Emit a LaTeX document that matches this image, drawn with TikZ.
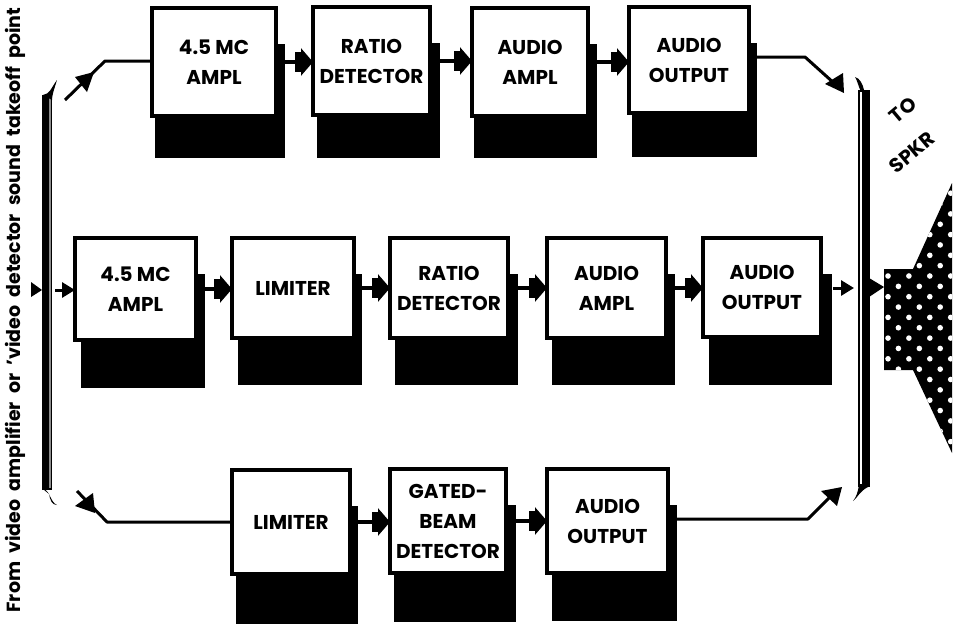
\documentclass[tikz,border=0pt]{standalone}
\usepackage{fontspec}
\setmainfont{Poppins}
\usetikzlibrary{arrows.meta}
\tikzset{
  blockbox/.style={draw=black,fill=white,line width=4pt,inner sep=0pt,outer sep=0pt,align=center,font=\fontsize{20}{30}\selectfont\bfseries},
  wire/.style={line width=3pt,draw=black},
  flow/.style={line width=3.5pt,draw=black,-{Rectangle[length=6pt,width=20pt,sep=0pt]Triangle[length=12pt,width=27pt]}},
  smallflow/.style={line width=3pt,draw=black,-{Triangle[length=13pt,width=15pt]}},
  headfill/.style={fill=black,draw=none},
  lettering/.style={font=\fontsize{19}{24}\selectfont\bfseries,inner sep=0pt},
  tospk/.style={font=\fontsize{20}{24}\selectfont\bfseries,inner sep=0pt,rotate=40}
}
% name, x1,y1,x2,y2, shadow x1,x2,y2, text
\newcommand{\blockat}[9]{%
  \fill[black] (#6,#3+38) rectangle (#7,#8);
  \pgfmathsetmacro{\bw}{#4-#2-4}\pgfmathsetmacro{\bh}{#5-#3-4}
  \node[blockbox,minimum width=\bw pt,minimum height=\bh pt] (#1) at ({(#2+#4)/2},{(#3+#5)/2}) {#9};
}
\begin{document}
\begin{tikzpicture}[x=1pt,y=-1pt]
\useasboundingbox (0,0) rectangle (957,624);
% first row
\blockat{aa}{150}{6}{278}{118}{155}{285}{158}{4.5 MC\\AMPL}
\blockat{ab}{311}{5}{432}{117}{317}{440}{158}{RATIO\\DETECTOR}
\blockat{ac}{470}{6}{590}{118}{474}{597}{158}{AUDIO\\AMPL}
\blockat{ad}{627}{5}{751}{115}{632}{757}{157}{AUDIO\\OUTPUT}
% second row
\blockat{ba}{73}{236}{198}{342}{81}{205}{388}{4.5 MC\\AMPL}
\blockat{bb}{230}{236}{356}{340}{238}{362}{385}{LIMITER}
\blockat{bc}{388}{236}{510}{340}{395}{518}{385}{RATIO\\DETECTOR}
\blockat{bd}{545}{236}{668}{340}{552}{675}{385}{AUDIO\\AMPL}
\blockat{be}{701}{236}{823}{339}{709}{832}{385}{AUDIO\\OUTPUT}
% third row
\blockat{ca}{230}{468}{352}{576}{236}{358}{624}{LIMITER}
\blockat{cb}{388}{467}{508}{575}{394}{516}{622}{GATED-\\BEAM\\DETECTOR}
\blockat{cc}{545}{467}{670}{575}{552}{677}{621}{AUDIO\\OUTPUT}
% flows
\draw[flow] (aa.east) -- (aa.east -| ab.west);
\draw[flow] (ab.east) -- (ab.east -| ac.west);
\draw[flow] (ac.east) -- (ac.east -| ad.west);
\draw[flow] (ba.east) -- (ba.east -| bb.west);
\draw[flow] (bb.east) -- (bb.east -| bc.west);
\draw[flow] (bc.east) -- (bc.east -| bd.west);
\draw[flow] (bd.east) -- (bd.east -| be.west);
\draw[flow] (ca.east) -- (ca.east -| cb.west);
\draw[flow] (cb.east) -- (cb.east -| cc.west);
% buses
\fill[black] (42,95) rectangle (52,490);
\fill[black!45] (49,97) rectangle (50.5,488);
\fill[black] (43,95) .. controls (50,94) and (51,88) .. (57,80) .. controls (54,90) and (52,95) .. (52,100) -- cycle;
\fill[black] (43,489) .. controls (50,490) and (50,502) .. (57,505) .. controls (52,505) and (50,500) .. (49,494) -- cycle;
\fill[black] (858,90) rectangle (869.5,487);
\fill[white] (859.8,92) rectangle (861.5,484);
\fill[black] (861,92) .. controls (858,85) and (857,80) .. (855,77) .. controls (860,78) and (863,85) .. (864,90) -- cycle;
\fill[black] (859,484) .. controls (858,493) and (856,497) .. (853,501) .. controls (858,497) and (860,491) .. (868,487) -- cycle;
% wires
\coordinate (ta) at (105,61);
\coordinate (tb) at (65,100);
\draw[wire,line join=round] (aa.west |- ta) -- (ta) -- (tb);
\fill[headfill] (94,72) -- (75,77) -- (87,92) -- cycle;
\coordinate (ua) at (107,522);
\coordinate (ub) at (77,491);
\draw[wire,line join=round] (ca.west |- ua) -- (ua) -- (ub);
\fill[headfill] (93,493) -- (75,506) -- (95,513) -- cycle;
\coordinate (va) at (805,57);
\coordinate (vb) at (835,84);
\draw[wire,line join=round] (ad.east |- va) -- (va) -- (vb);
\fill[headfill] (843,73) -- (825,84) -- (844,93) -- cycle;
\coordinate (wa) at (808,519);
\coordinate (wb) at (830,497);
\draw[wire,line join=round] (cc.east |- wa) -- (wa) -- (wb);
\fill[headfill] (842,487) -- (821,491) -- (837,506) -- cycle;
% input and output
\coordinate (inp) at (55,290);
\draw[smallflow] (inp) -- (inp -| ba.west);
\fill[headfill] (31,282) -- (42,290) -- (31,297) -- cycle;
\coordinate (oup) at (833,288);
\coordinate (oue) at (854,288);
\draw[smallflow] (oup) -- (oue);
\fill[headfill] (869,278) -- (884,287) -- (869,297) -- cycle;
% speaker
\begin{scope}
\clip (884,269) -- (913,269) -- (952,183) -- (952,453) -- (913,370) -- (884,370) -- cycle;
\fill[black] (880,180) rectangle (957,460);
\foreach \r in {-9,...,17}{
  \pgfmathsetmacro{\rowy}{276+\r*10.35}
  \pgfmathsetmacro{\off}{mod(\r+20,2)*10.4}
  \foreach \c in {0,...,3}{
    \fill[white] ({888+\off+\c*20.9},\rowy) circle (2.8);
  }
}
\end{scope}
% lettering
\node[lettering,rotate=90] (src) at (15,310) {From\ \ video\ \ amplifier\ \ or\ \ 'video\ \ detector\ \ sound\ \ takeoff\ \ point};
\node[tospk] (to) at (903,110) {TO};
\node[tospk] (spkr) at (912,152) {SPKR};
\end{tikzpicture}
\end{document}
